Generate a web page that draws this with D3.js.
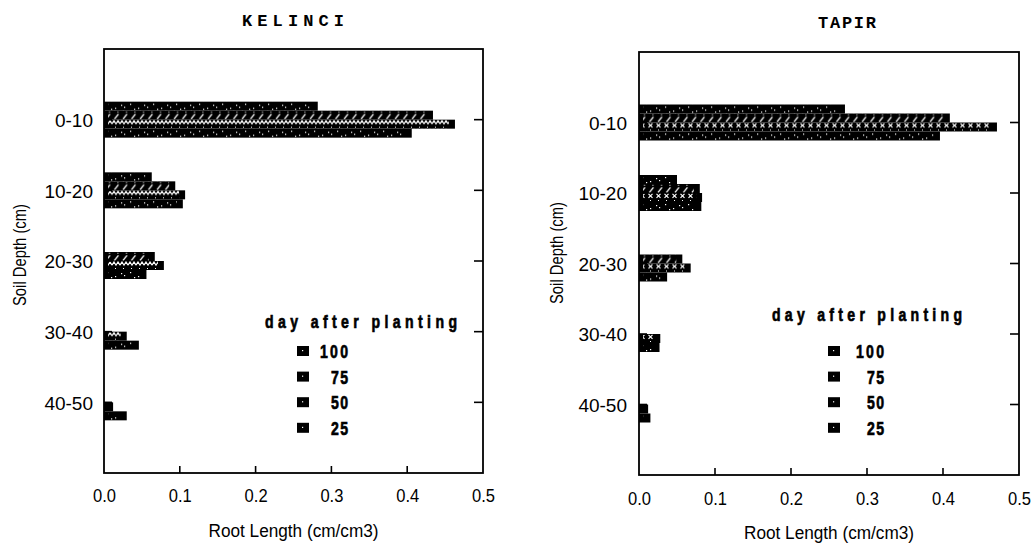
<!DOCTYPE html>
<html>
<head>
<meta charset="utf-8">
<script src="https://cdn.jsdelivr.net/npm/d3@7"></script>
<style>
  html, body { margin: 0; padding: 0; background: #fff; }
  svg { display: block; }
</style>
</head>
<body>
<svg id="chart" width="1034" height="547"></svg>
<script>
// Soil depth classes (top to bottom of each panel)
const depths = ["0-10", "10-20", "20-30", "30-40", "40-50"];
// Days after planting, in the order the bars stack inside each depth group (top to bottom)
const barDays = ["25", "50", "75", "100"];
// Legend order
const legendDays = ["100", "75", "50", "25"];
// Root length density (cm/cm3) per depth class
const kelinciDay25  = [0.282, 0.063, 0,     0,     0];
const kelinciDay50  = [0.434, 0.094, 0.067, 0,     0];
const kelinciDay75  = [0.463, 0.107, 0.079, 0.030, 0.012];
const kelinciDay100 = [0.406, 0.104, 0.056, 0.046, 0.030];
const tapirDay25  = [0.271, 0.050, 0,     0,     0];
const tapirDay50  = [0.409, 0.080, 0.057, 0,     0];
const tapirDay75  = [0.471, 0.083, 0.068, 0.028, 0.012];
const tapirDay100 = [0.396, 0.082, 0.037, 0.027, 0.015];
// Axis ticks
const xTicks = [0, 0.1, 0.2, 0.3, 0.4, 0.5];
const xTickLabels = ["0.0", "0.1", "0.2", "0.3", "0.4", "0.5"];

const svg = d3.select("#chart");
const defs = svg.append("defs");

// White hatch patterns laid over black bars; each pattern tiles from the bar's own top edge
function makePatterns(prefix, crossStyle) {
  const speck = defs.append("pattern").attr("id", prefix + "-speck")
    .attr("patternUnits", "userSpaceOnUse").attr("width", 23).attr("height", 9);
  [[3, 2], [11, 6], [17, 3], [7, 7], [20, 5]].forEach(([x, y]) =>
    speck.append("rect").attr("x", x).attr("y", y).attr("width", 1.2).attr("height", 1.2).attr("fill", "#fff"));

  const slash = defs.append("pattern").attr("id", prefix + "-slash")
    .attr("patternUnits", "userSpaceOnUse").attr("width", 8.5).attr("height", 9);
  slash.append("line").attr("x1", 2).attr("y1", 8.3).attr("x2", 6).attr("y2", 3.3)
    .attr("stroke", "#fff").attr("stroke-width", 1.3);
  slash.append("rect").attr("x", 5).attr("y", 0.8).attr("width", 1).attr("height", 1).attr("fill", "#fff");

  const zig = defs.append("pattern").attr("id", prefix + "-zig")
    .attr("patternUnits", "userSpaceOnUse").attr("width", 8).attr("height", 9);
  if (crossStyle) {
    zig.append("path").attr("d", "M1.5,0.8 L5.5,4.8 M5.5,0.8 L1.5,4.8")
      .attr("stroke", "#fff").attr("stroke-width", 1.2).attr("fill", "none");
  } else {
    zig.append("path").attr("d", "M0,4.2 L2,1 L4,4.2 L6,1 L8,4.2")
      .attr("stroke", "#fff").attr("stroke-width", 1.2).attr("fill", "none");
  }
  zig.append("rect").attr("x", 3).attr("y", 7).attr("width", 1).attr("height", 1).attr("fill", "#fff");

  return {
    "25": `url(#${prefix}-speck)`,
    "50": `url(#${prefix}-slash)`,
    "75": `url(#${prefix}-zig)`,
    "100": `url(#${prefix}-speck)`
  };
}

const sansFont = '"Liberation Sans", Arial, Helvetica, sans-serif';
const boldFont = '"Liberation Sans", Arial, sans-serif';
const monoFont = '"Liberation Mono", "Courier New", monospace';

// Condensed heavy text: glyphs squeezed horizontally, then stretched to a given width by spacing
function narrowText(sel, x, y, str, width, anchor, size) {
  const sx = 0.74;
  return sel.append("text")
    .attr("transform", `translate(${x},${y}) scale(${sx},1)`)
    .attr("font-family", boldFont).attr("font-weight", "bold").attr("font-size", size)
    .attr("stroke", "#000").attr("stroke-width", 0.7)
    .attr("text-anchor", anchor || "start")
    .attr("textLength", width / sx).attr("lengthAdjust", "spacing")
    .text(str);
}

function drawPanel(cfg) {
  const g = svg.append("g");
  const x = d3.scaleLinear().domain([0, 0.5]).range([cfg.left, cfg.right]);
  const y = d3.scalePoint().domain(depths).range([cfg.top, cfg.bottom]).padding(1);
  const inner = d3.scaleBand().domain(barDays).range([-18, 18]).paddingInner(0);
  const fills = makePatterns(cfg.id, cfg.crossStyle);

  // bars: black body plus white hatch band, positioned from the data
  barDays.forEach(day => {
    const vals = cfg.series[day];
    const bars = g.append("g").selectAll("g")
      .data(depths.map((d, i) => ({ depth: d, value: vals[i] })).filter(d => d.value > 0))
      .join("g")
      .attr("transform", d => `translate(${x(0)},${y(d.depth) + inner(day)})`);
    bars.append("rect")
      .attr("x", 0).attr("y", 0)
      .attr("width", d => x(d.value) - x(0))
      .attr("height", inner.bandwidth())
      .attr("fill", "#000");
    bars.append("rect")
      .attr("x", 4).attr("y", 0)
      .attr("width", d => Math.max(0, x(d.value) - x(0) - 10))
      .attr("height", inner.bandwidth())
      .attr("fill", fills[day]);
  });

  // frame
  g.append("rect")
    .attr("x", cfg.left).attr("y", cfg.top)
    .attr("width", cfg.right - cfg.left).attr("height", cfg.bottom - cfg.top)
    .attr("fill", "none").attr("stroke", "#000").attr("stroke-width", 1.8);

  // bottom axis labels
  const xAxis = d3.axisBottom(x).tickValues(xTicks).tickSize(0)
    .tickFormat((d, i) => xTickLabels[i]).tickPadding(0);
  const xa = g.append("g").attr("transform", `translate(0,${cfg.bottom})`).call(xAxis);
  xa.select(".domain").remove();
  xa.selectAll(".tick line").remove();
  xa.selectAll(".tick text")
    .attr("y", cfg.tickLabelDy).attr("dy", null)
    .attr("font-family", sansFont).attr("font-size", 18)
    .attr("textLength", 23).attr("lengthAdjust", "spacingAndGlyphs")
    .attr("fill", "#000");
  // inward ticks on the bottom edge
  g.append("g").selectAll("line")
    .data(xTicks.slice(1, -1)).join("line")
    .attr("x1", d => x(d)).attr("x2", d => x(d))
    .attr("y1", cfg.bottom).attr("y2", cfg.bottom - 7)
    .attr("stroke", "#000").attr("stroke-width", 1.6);

  // category labels
  const yAxis = d3.axisLeft(y).tickSize(0).tickPadding(0);
  const ya = g.append("g").attr("transform", `translate(${cfg.left - cfg.catGap},0)`).call(yAxis);
  ya.select(".domain").remove();
  ya.selectAll(".tick line").remove();
  ya.selectAll(".tick text")
    .attr("font-family", sansFont).attr("font-size", 19).attr("fill", "#000")
    .attr("dy", "0.36em");

  // inward ticks on both vertical edges at category positions
  g.append("g").selectAll("line")
    .data(depths).join("line")
    .attr("x1", cfg.right).attr("x2", cfg.right - 9)
    .attr("y1", d => y(d)).attr("y2", d => y(d))
    .attr("stroke", "#000").attr("stroke-width", 1.6);
  g.append("g").selectAll("line")
    .data(depths).join("line")
    .attr("x1", cfg.left).attr("x2", cfg.left + 8)
    .attr("y1", d => y(d)).attr("y2", d => y(d))
    .attr("stroke", "#000").attr("stroke-width", 1.6);

  // axis titles
  g.append("text")
    .attr("x", (cfg.left + cfg.right) / 2).attr("y", cfg.xTitleY)
    .attr("text-anchor", "middle")
    .attr("font-family", sansFont).attr("font-size", 17.5)
    .attr("textLength", 170).attr("lengthAdjust", "spacingAndGlyphs")
    .text("Root Length (cm/cm3)");
  g.append("text")
    .attr("transform", `translate(${cfg.yTitleX},${cfg.yTitleY}) rotate(-90)`)
    .attr("text-anchor", "middle").attr("dy", "0.35em")
    .attr("font-family", sansFont).attr("font-size", 17.5)
    .attr("textLength", 102).attr("lengthAdjust", "spacingAndGlyphs")
    .text("Soil Depth (cm)");

  // panel title
  g.append("text")
    .attr("x", cfg.titleX).attr("y", cfg.titleY)
    .attr("font-family", monoFont).attr("font-weight", "bold").attr("font-size", 17)
    .attr("textLength", cfg.titleLen).attr("lengthAdjust", "spacing")
    .text(cfg.title);

  // legend
  const L = cfg.legend;
  narrowText(g, L.textX, L.titleY, "day after planting", L.titleLen, "start", 19);
  legendDays.forEach((d, i) => {
    const cy = L.rowY + i * 25.6;
    g.append("rect")
      .attr("x", L.keyX).attr("y", cy - 5)
      .attr("width", 12).attr("height", 10)
      .attr("fill", "#000");
    g.append("rect")
      .attr("x", L.keyX + 5).attr("y", cy - 1)
      .attr("width", 1.2).attr("height", 1.2)
      .attr("fill", "#fff");
    narrowText(g, L.numRight, cy + 7, d, d.length === 3 ? 28 : 17, "end", 19);
  });
}

drawPanel({
  id: "kel", title: "KELINCI", titleX: 242, titleY: 26, titleLen: 102,
  left: 104, right: 483, top: 49, bottom: 473,
  catGap: 11, tickLabelDy: 29, xTitleY: 537, yTitleX: 20, yTitleY: 255,
  crossStyle: false,
  series: { "25": kelinciDay25, "50": kelinciDay50, "75": kelinciDay75, "100": kelinciDay100 },
  legend: { textX: 265, titleY: 328, titleLen: 192, keyX: 297, numRight: 348, rowY: 351 }
});

drawPanel({
  id: "tap", title: "TAPIR", titleX: 818, titleY: 28, titleLen: 58,
  left: 639, right: 1019, top: 52, bottom: 475,
  catGap: 12, tickLabelDy: 30, xTitleY: 539, yTitleX: 557, yTitleY: 253,
  crossStyle: true,
  series: { "25": tapirDay25, "50": tapirDay50, "75": tapirDay75, "100": tapirDay100 },
  legend: { textX: 772, titleY: 321, titleLen: 190, keyX: 828, numRight: 884, rowY: 351 }
});
</script>
</body>
</html>
